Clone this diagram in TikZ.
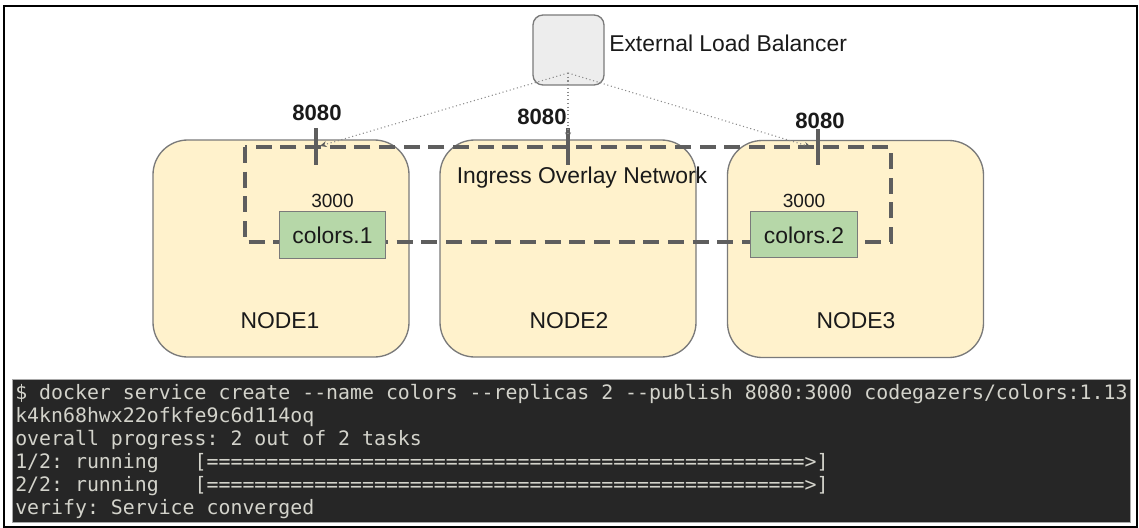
\documentclass[tikz,border=0pt]{standalone}
\usepackage{fontspec}
\setmainfont{Liberation Sans}
\setmonofont{DejaVu Sans Mono}
\usetikzlibrary{arrows.meta}

\definecolor{hostfill}{HTML}{FFF2CC}
\definecolor{hostedge}{HTML}{7A7A7A}
\definecolor{lbfill}{HTML}{EDEDED}
\definecolor{svcfill}{HTML}{B6D7A8}
\definecolor{netgray}{HTML}{5E5E5E}
\definecolor{dotgray}{HTML}{8A8A8A}
\definecolor{inkdark}{HTML}{1A1A1A}
\definecolor{termbg}{HTML}{262626}
\definecolor{termfg}{HTML}{D3D3CB}
\definecolor{termedge}{HTML}{A8A8A8}

\begin{document}
\begin{tikzpicture}[x=0.75pt,y=-0.75pt,
  host/.style={draw=hostedge, fill=hostfill, line width=1pt, rounded corners=26pt,
    inner sep=0pt, minimum width=192pt, minimum height=162.75pt},
  balancer/.style={draw=hostedge, fill=lbfill, line width=1pt, rounded corners=7.5pt,
    inner sep=0pt, minimum width=53.25pt, minimum height=52.5pt},
  replica/.style={draw=hostedge, fill=svcfill, line width=0.8pt, inner sep=0pt,
    minimum width=80pt, minimum height=35pt},
  txt/.style={inner sep=0pt, text=inkdark, font=\fontsize{17.15}{20}\selectfont},
  portnum/.style={inner sep=0pt, text=inkdark, font=\fontsize{16.6}{19}\selectfont\bfseries, anchor=base},
  smallport/.style={inner sep=0pt, text=inkdark, font=\fontsize{14.3}{17}\selectfont, anchor=base},
  ingressline/.style={draw=netgray, line width=2.3pt, dash pattern=on 12pt off 6.5pt},
  porttick/.style={draw=netgray, line width=2.3pt},
  dotlink/.style={draw=dotgray, line width=0.8pt, dotted,
    -{Stealth[length=5pt,width=4.5pt,color=netgray]}},
  termline/.style={inner sep=0pt, anchor=base west, text=termfg,
    font=\fontsize{14.9}{17}\ttfamily}
]
\useasboundingbox (0,0) rectangle (1139,528);

% outer frame
\draw[line width=2.2pt, black] (4,6) rectangle (1137,527);

% swarm hosts
\node[host] (node1) at (281,248.5) {};
\node[host] (node2) at (568,248.5) {};
\node[host] (node3) at (855.5,249) {};

% external load balancer
\node[balancer] (lb) at (568.5,50) {};
\node[txt, anchor=base west] (lbtext) at (609,52) {External Load Balancer};

% ingress overlay network (dashed loop)
\coordinate (ing-nw) at (245,147);
\coordinate (ing-se) at (891,242);
\draw[ingressline] (ing-nw) rectangle (ing-se);

% service replicas
\node[replica] (rep1) at (332.5,235) {};
\node[replica] (rep2) at (804,234.5) {};
\node[txt, anchor=base] (rep1text) at (332.5,243) {colors.1};
\node[txt, anchor=base] (rep2text) at (804,243) {colors.2};
\node[smallport] (tp1) at (332.5,207) {3000};
\node[smallport] (tp2) at (804,207) {3000};

% published port ticks
\coordinate (t1a) at (316,128); \coordinate (t1b) at (316,165);
\coordinate (t2a) at (568,128); \coordinate (t2b) at (568,165);
\coordinate (t3a) at (818,129); \coordinate (t3b) at (818,165);
\draw[porttick] (t1a) -- (t1b);
\draw[porttick] (t2a) -- (t2b);
\draw[porttick] (t3a) -- (t3b);
\node[portnum] (pp1) at (317,120) {8080};
\node[portnum] (pp2) at (542,124) {8080};
\node[portnum] (pp3) at (820,128) {8080};

% load balancer fan-out
\coordinate (lbout) at (568,73);
\coordinate (in1) at (320,146);
\coordinate (in2) at (568,139);
\coordinate (in3) at (811,147);
\draw[dotlink] (lbout) -- (in1);
\draw[dotlink] (lbout) -- (in2);
\draw[dotlink] (lbout) -- (in3);

% host names and network name
\node[txt, anchor=base] (n1text) at (280,328) {NODE1};
\node[txt, anchor=base] (n2text) at (569,328) {NODE2};
\node[txt, anchor=base] (n3text) at (856,328) {NODE3};
\node[txt, anchor=base] (ingtext) at (582,183) {Ingress Overlay Network};

% terminal output
\node[draw=termedge, fill=termbg, line width=0.6pt, inner sep=0pt,
  minimum width=838.5pt, minimum height=107.25pt] (term) at (571,451) {};
\node[termline] (l1) at (15,399) {\$ docker service create -{}-name colors -{}-replicas 2 -{}-publish 8080:3000 codegazers/colors:1.13};
\node[termline] (l2) at (15,422) {k4kn68hwx22ofkfe9c6d114oq};
\node[termline] (l3) at (15,445) {overall progress: 2 out of 2 tasks};
\node[termline] (l4) at (15,468) {1/2: running\ \ \ [==================================================>]};
\node[termline] (l5) at (15,491) {2/2: running\ \ \ [==================================================>]};
\node[termline] (l6) at (15,514) {verify: Service converged};
\end{tikzpicture}
\end{document}
